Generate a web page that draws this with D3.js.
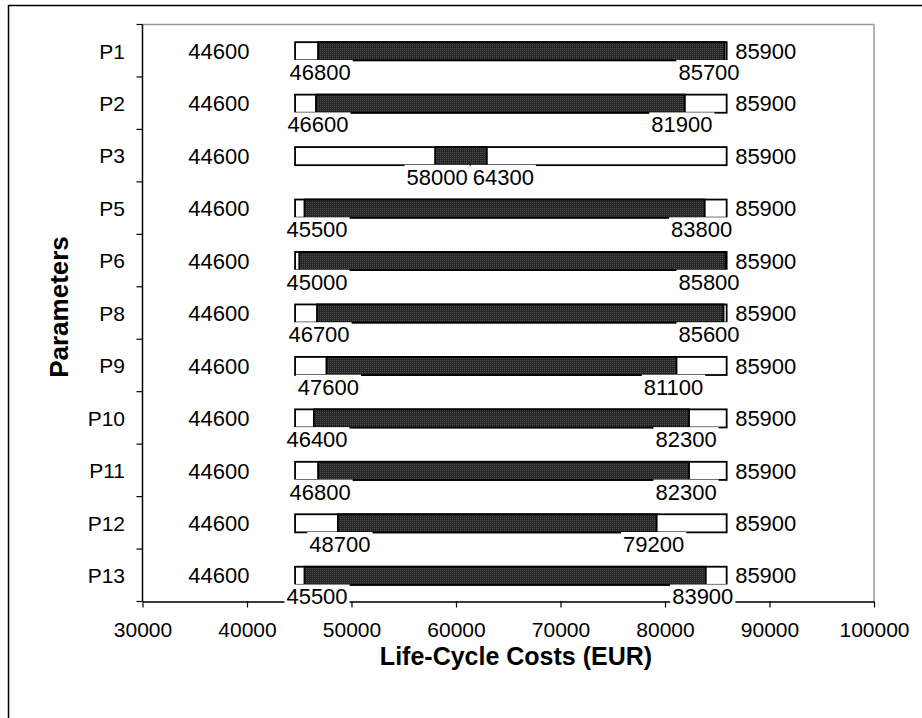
<!DOCTYPE html>
<html><head><meta charset="utf-8">
<script src="https://cdn.jsdelivr.net/npm/d3@7"></script>
<style>body{margin:0;background:#fff}svg{display:block}text{font-family:"Liberation Sans",Arial,sans-serif}</style>
</head><body><svg id="c" width="922" height="718"></svg>
<script>
const categories = ["P1","P2","P3","P5","P6","P8","P9","P10","P11","P12","P13"];
const minValues = [44600,44600,44600,44600,44600,44600,44600,44600,44600,44600,44600];
const maxValues = [85900,85900,85900,85900,85900,85900,85900,85900,85900,85900,85900];
const lowValues = [46800,46600,58000,45500,45000,46700,47600,46400,46800,48700,45500];
const highValues = [85700,81900,64300,83800,85800,85600,81100,82300,82300,79200,83900];
const barHighValues = [85700,81900,62950,83800,85800,85600,81100,82300,82300,79200,83900];
const xTicks = [30000,40000,50000,60000,70000,80000,90000,100000];

const svg = d3.select("#c");
const W = 922, H = 718;
const L = 142.5, R = 874, T = 24.5, B = 601.5;

// outer frame
svg.append("rect").attr("x",8.5).attr("y",5.5).attr("width",W).attr("height",H)
  .attr("fill","none").attr("stroke","#000").attr("stroke-width",1.5);

const defs = svg.append("defs");
const pat = defs.append("pattern").attr("id","dots").attr("patternUnits","userSpaceOnUse")
  .attr("width",2).attr("height",2);
pat.append("rect").attr("width",2).attr("height",2).attr("fill","#262626");
pat.append("rect").attr("width",1).attr("height",1).attr("fill","#4d4d4d");

const x = d3.scaleLinear().domain([30000,100000]).range([L,R]);
const y = d3.scaleBand().domain(categories).range([T+0.5,B+0.5]).paddingInner(0.655).paddingOuter(0.3275);

// plot border (top/right gray)
svg.append("line").attr("x1",L).attr("x2",R).attr("y1",T).attr("y2",T).attr("stroke","#9a9a9a").attr("stroke-width",1.5);
svg.append("line").attr("x1",R).attr("x2",R).attr("y1",T).attr("y2",B).attr("stroke","#9a9a9a").attr("stroke-width",1.5);

// bottom axis
const xAxis = svg.append("g").attr("transform",`translate(0,${B})`)
  .call(d3.axisBottom(x).tickValues(xTicks).tickFormat(d3.format("d")).tickSize(6).tickSizeOuter(0).tickPadding(15));
xAxis.select(".domain").attr("stroke","#3a3a3a").attr("stroke-width",2.2);
xAxis.selectAll(".tick line").attr("stroke","#000").attr("stroke-width",1.2);
xAxis.selectAll(".tick text").attr("font-size",21).attr("fill","#000").attr("font-family","Liberation Sans, Arial, sans-serif");

// left axis line
svg.append("line").attr("x1",L).attr("x2",L).attr("y1",T).attr("y2",B).attr("stroke","#000").attr("stroke-width",1.5);
// category boundary ticks
const bounds = d3.range(categories.length+1).map(i => T + i*(B-T)/categories.length);
svg.selectAll(".ct").data(bounds).join("line")
  .attr("x1",L-6).attr("x2",L).attr("y1",d=>d).attr("y2",d=>d).attr("stroke","#000").attr("stroke-width",1.2);
// category labels
svg.selectAll(".cl").data(categories).join("text")
  .attr("x",125).attr("y",d=>y(d)+y.bandwidth()/2).attr("dy","0.35em")
  .attr("text-anchor","end").attr("font-size",21).text(d=>d);

const rows = categories.map((c,i)=>({c, min:minValues[i], max:maxValues[i], low:lowValues[i], high:highValues[i], bh:barHighValues[i]}));
const g = svg.append("g");
// white range bars
g.selectAll(".wb").data(rows).join("rect")
  .attr("x",d=>x(d.min)).attr("y",d=>y(d.c)).attr("width",d=>x(d.max)-x(d.min)).attr("height",y.bandwidth())
  .attr("fill","#fff").attr("stroke","#000").attr("stroke-width",1.8);
// dark bars
g.selectAll(".db").data(rows).join("rect")
  .attr("x",d=>x(d.low)).attr("y",d=>y(d.c)).attr("width",d=>x(d.bh)-x(d.low)).attr("height",y.bandwidth())
  .attr("fill","url(#dots)").attr("stroke","#000").attr("stroke-width",1.8);

const fmt = d3.format("d");
const lab = svg.append("g").attr("font-size",22);
function label(text, cx, cy, anchor, bg){
  const t = lab.append("text").attr("x",cx).attr("y",cy).attr("dy","0.35em").attr("text-anchor",anchor).text(text);
  if (bg){
    const bb = t.node().getBBox();
    lab.insert("rect","text:last-child").attr("x",bb.x-2).attr("y",bb.y).attr("width",bb.width+4).attr("height",bb.height)
      .attr("fill","#fff");
    t.raise();
  }
  return t;
}
rows.forEach(d=>{
  const cy = y(d.c)+y.bandwidth()/2;
  label(fmt(d.min), (x(30000)+x(d.min))/2, cy, "middle", false);
  label(fmt(d.max), x(d.max)+8.5, cy, "start", false);
  const lowCx = Math.max(x(d.low)+2, 317);
  const lt = label(fmt(d.low), lowCx, cy+21, "middle", true);
  const lbb = lt.node().getBBox();
  let hiCx = Math.min(x(d.high)-3, 709);
  const hw = lbb.width/2;
  if (hiCx - hw < lbb.x + lbb.width + 4) hiCx = lbb.x + lbb.width + 5 + hw;
  label(fmt(d.high), hiCx, cy+21, "middle", true);
});

// axis titles
svg.append("text").attr("x",516).attr("y",665).attr("text-anchor","middle")
  .attr("font-size",25).attr("font-weight","bold").text("Life-Cycle Costs (EUR)");
svg.append("text").attr("transform","translate(68,307) rotate(-90)").attr("text-anchor","middle")
  .attr("font-size",26).attr("font-weight","bold").text("Parameters");
</script></body></html>
